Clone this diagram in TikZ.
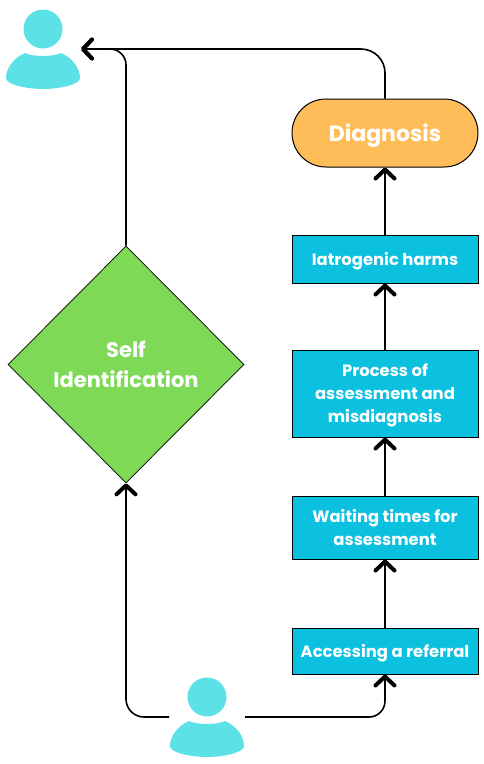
\documentclass[tikz,border=0pt]{standalone}
\usepackage{fontspec}
\setmainfont{Poppins}
\usetikzlibrary{shapes.geometric, shapes.misc, arrows.meta, positioning}
\definecolor{boxblue}{HTML}{0CC0DF}
\definecolor{diagorange}{HTML}{FFBD59}
\definecolor{selfgreen}{HTML}{7ED957}
\definecolor{usercyan}{HTML}{5CE1E6}

\begin{document}
\begin{tikzpicture}[x=1pt, y=-1pt]
    \tikzstyle{block} = [rectangle, draw=black, line width=1pt, fill=boxblue, text=white, minimum width=186pt, inner sep=0pt, text depth=0pt, align=center, font=\bfseries\fontsize{16.4}{23}\selectfont]
    \tikzstyle{pill} = [rounded rectangle, draw=black, line width=1pt, fill=diagorange, text=white, minimum width=186pt, minimum height=68pt, inner sep=0pt, text depth=0pt, font=\bfseries\fontsize{22}{26}\selectfont]
    \tikzstyle{choice} = [diamond, draw=black, line width=0.7pt, fill=selfgreen, text=white, minimum width=236pt, minimum height=237pt, inner sep=0pt, align=center, font=\bfseries\fontsize{21}{30}\selectfont]
    \tikzstyle{usernode} = [minimum width=76pt, minimum height=10pt, inner sep=0pt, outer sep=0pt]
    \tikzstyle{arrow} = [line width=1.6pt, -{Straight Barb[length=9pt, width=19pt, line width=4pt, round]}]
    \tikzset{usericon/.pic={
        \fill[usercyan] (0,-20) circle[radius=19.5];
        \fill[usercyan] (-18,4) .. controls (-30,9) and (-37,20) .. (-37,29)
            .. controls (-37,36) and (-15,40) .. (0,40)
            .. controls (15,40) and (37,36) .. (37,29)
            .. controls (37,20) and (30,9) .. (18,4)
            .. controls (10,8) and (-10,8) .. cycle;
    }}

    \useasboundingbox (0,0) rectangle (484,764);

    % users
    \node[usernode] (topuser) at (43,49) {};
    \pic at (topuser) {usericon};
    \node[usernode] (startuser) at (207,717) {};
    \pic at (startuser) {usericon};

    % right column
    \node[block, minimum height=46pt] (referral) at (385,651) {Accessing a referral};
    \node[block, minimum height=63pt] (waiting) at (385,527.5) {Waiting times for\\assessment};
    \node[block, minimum height=87pt] (process) at (385,393.5) {Process of\\assessment and\\misdiagnosis};
    \node[block, minimum height=48pt] (harms) at (385,259) {Iatrogenic harms};
    \node[pill] (diagnosis) at (385,133) {Diagnosis};

    % left column
    \node[choice] (selfid) at (126,364.5) {Self\\Identification};

    \draw[arrow, rounded corners=16pt] (startuser.east) -| (referral.south);
    \draw[arrow] (referral) -- (waiting);
    \draw[arrow] (waiting) -- (process);
    \draw[arrow] (process) -- (harms);
    \draw[arrow] (harms) -- (diagnosis);
    \draw[arrow, rounded corners=24pt] (diagnosis.north) |- (topuser.east);
    \draw[arrow, rounded corners=18pt] (startuser.west) -| (selfid.south);
    \draw[arrow, rounded corners=16pt] (selfid.north) |- (topuser.east);
\end{tikzpicture}
\end{document}
